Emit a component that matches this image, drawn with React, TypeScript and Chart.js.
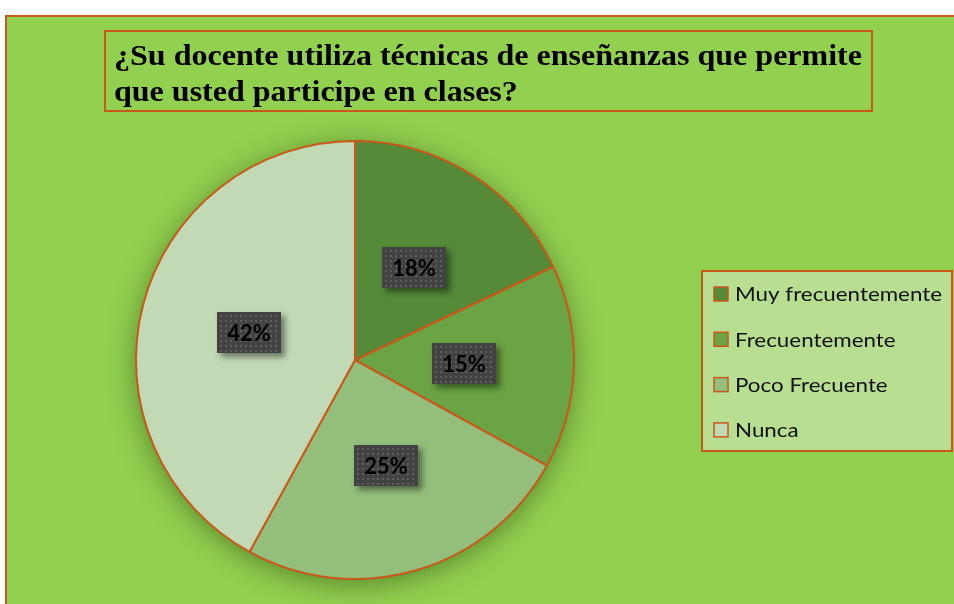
import { useEffect, useRef } from "react";
import { Chart, registerables } from "chart.js";
Chart.register(...registerables);

const categories = ["Muy frecuentemente", "Frecuentemente", "Poco Frecuente", "Nunca"];
const values = [18, 15, 25, 42];
const valueLabels = ["18%", "15%", "25%", "42%"];
const sliceColors = ["#548A38", "#6AA444", "#93BE7B", "#C1D9B5"];
const titleLines = [
  "¿Su docente utiliza técnicas de enseñanzas que permite",
  "que usted participe en clases?",
];

const ORANGE = "#C9581A";
const GREEN = "#92D050";

function stretchedText(ctx: any, text: string, x: number, y: number, sx: number) {
  ctx.save();
  ctx.translate(x, y);
  ctx.scale(sx, 1);
  ctx.fillText(text, 0, 0);
  ctx.restore();
}

const framePlugin = {
  id: "frame",
  beforeDraw(chart: any) {
    const ctx = chart.ctx;
    const W = chart.width, H = chart.height;
    ctx.save();
    ctx.fillStyle = "#ffffff";
    ctx.fillRect(0, 0, W, H);
    ctx.fillStyle = GREEN;
    ctx.fillRect(5, 15, W, H);
    ctx.strokeStyle = ORANGE;
    ctx.lineWidth = 2;
    ctx.beginPath();
    ctx.moveTo(6, H + 2);
    ctx.lineTo(6, 16);
    ctx.lineTo(W + 2, 16);
    ctx.stroke();
    // title box
    ctx.strokeRect(105, 31, 767, 80);
    ctx.fillStyle = "#000000";
    ctx.font = "bold 30px 'Liberation Serif', serif";
    ctx.textBaseline = "alphabetic";
    ctx.textAlign = "left";
    const w0 = ctx.measureText(titleLines[0]).width;
    const sx = 748 / w0;
    stretchedText(ctx, titleLines[0], 114, 65, sx);
    stretchedText(ctx, titleLines[1], 114, 101, sx);
    ctx.restore();
  },
  beforeDatasetsDraw(chart: any) {
    const meta = chart.getDatasetMeta(0);
    const arc = meta.data[0];
    if (!arc) return;
    const ctx = chart.ctx;
    ctx.save();
    ctx.shadowColor = "rgba(40,70,15,0.55)";
    ctx.shadowBlur = 28;
    ctx.shadowOffsetX = 0;
    ctx.shadowOffsetY = 5;
    ctx.fillStyle = "#7fa860";
    ctx.beginPath();
    ctx.arc(arc.x, arc.y, arc.outerRadius, 0, Math.PI * 2);
    ctx.fill();
    ctx.restore();
  },
  afterDatasetsDraw(chart: any) {
    const meta = chart.getDatasetMeta(0);
    const ctx = chart.ctx;
    meta.data.forEach((arc: any, i: number) => {
      const p = arc.tooltipPosition(false);
      const bw = 64, bh = 41;
      const x = Math.round(p.x - bw / 2), y = Math.round(p.y - bh / 2);
      ctx.save();
      ctx.shadowColor = "rgba(0,0,0,0.45)";
      ctx.shadowBlur = 6;
      ctx.shadowOffsetX = 4;
      ctx.shadowOffsetY = 4;
      ctx.fillStyle = "#424242";
      ctx.fillRect(x, y, bw, bh);
      ctx.restore();
      ctx.save();
      ctx.fillStyle = "#5f5f5f";
      for (let yy = y + 3; yy < y + bh - 1; yy += 5) {
        for (let xx = x + 3; xx < x + bw - 1; xx += 5) {
          ctx.fillRect(xx, yy, 2, 2);
        }
      }
      ctx.fillStyle = "#000000";
      ctx.font = "bold 22px Lato, 'Noto Sans', sans-serif";
      ctx.textAlign = "center";
      ctx.textBaseline = "middle";
      ctx.fillText(valueLabels[i], x + bw / 2, y + bh / 2 + 1);
      ctx.restore();
    });
  },
  afterDraw(chart: any) {
    const ctx = chart.ctx;
    ctx.save();
    const lx = 702, ly = 271, lw = 250, lh = 180;
    ctx.fillStyle = "#B8DE91";
    ctx.fillRect(lx, ly, lw, lh);
    ctx.strokeStyle = ORANGE;
    ctx.lineWidth = 2;
    ctx.strokeRect(lx, ly, lw, lh);
    ctx.font = "20px Lato, 'Noto Sans', sans-serif";
    ctx.textBaseline = "middle";
    ctx.textAlign = "left";
    const sx = 207 / ctx.measureText(categories[0]).width;
    categories.forEach((c, i) => {
      const cy = 294 + i * 45.3;
      ctx.fillStyle = sliceColors[i];
      ctx.fillRect(714, cy - 7, 14, 14);
      ctx.strokeStyle = ORANGE;
      ctx.lineWidth = 1.5;
      ctx.strokeRect(714, cy - 7, 14, 14);
      ctx.fillStyle = "#111111";
      stretchedText(ctx, c, 735, cy + 1, sx);
    });
    ctx.restore();
  },
};

export default function App() {
  const ref = useRef<HTMLCanvasElement | null>(null);
  useEffect(() => {
    document.body.style.margin = "0";
    if (!ref.current) return;
    const chart = new Chart(ref.current, {
      type: "pie",
      data: {
        labels: categories,
        datasets: [
          {
            data: values,
            backgroundColor: sliceColors,
            borderColor: ORANGE,
            borderWidth: 2,
          },
        ],
      },
      options: {
        responsive: false,
        animation: false,
        devicePixelRatio: 1,
        layout: { padding: { left: 135, right: 379, top: 140, bottom: 24 } },
        plugins: { legend: { display: false }, tooltip: { enabled: false } },
      },
      plugins: [framePlugin],
    });
    return () => chart.destroy();
  }, []);
  return (
    <div style={{ width: 954, height: 604 }}>
      <canvas ref={ref} width={954} height={604} style={{ display: "block" }} />
    </div>
  );
}
